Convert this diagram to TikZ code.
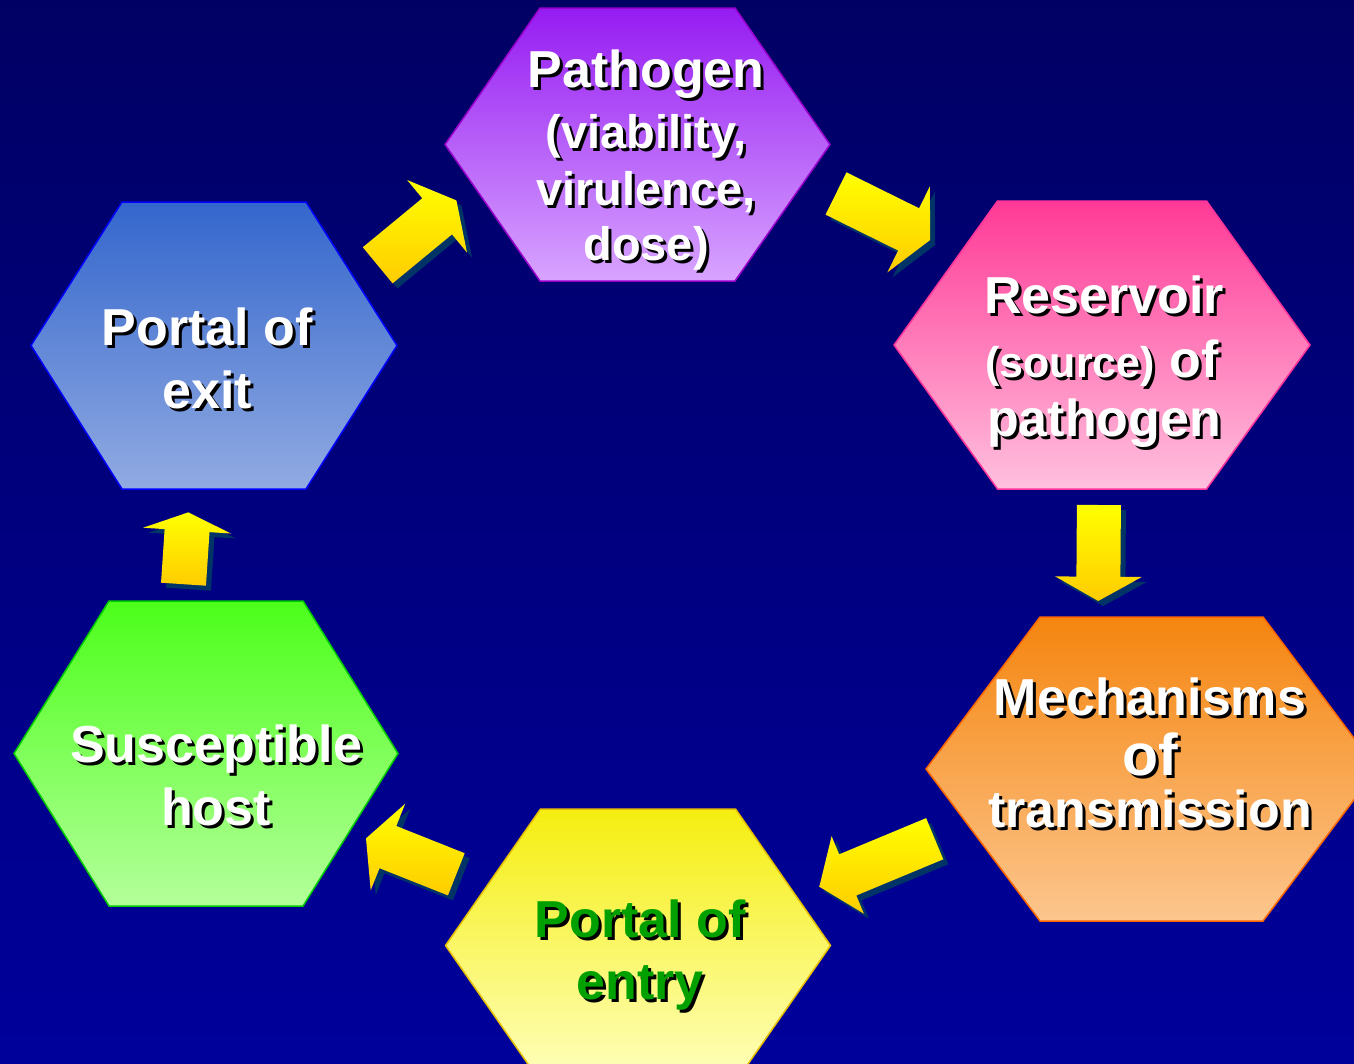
\documentclass[tikz,border=0pt]{standalone}
\usepackage{fontspec}
\setmainfont{Liberation Sans}
\usetikzlibrary{calc}

\definecolor{bgtop}{RGB}{0,0,100}
\definecolor{bgbot}{RGB}{0,0,155}
\definecolor{arrtop}{RGB}{255,255,0}
\definecolor{arrbot}{RGB}{255,204,0}
\definecolor{arrshade}{RGB}{0,51,102}
\definecolor{purtop}{RGB}{150,28,242}
\definecolor{purbot}{RGB}{216,164,255}
\definecolor{purline}{RGB}{153,0,204}
\definecolor{pintop}{RGB}{255,58,150}
\definecolor{pinbot}{RGB}{255,192,222}
\definecolor{pinline}{RGB}{255,51,153}
\definecolor{ortop}{RGB}{245,133,15}
\definecolor{orbot}{RGB}{252,198,142}
\definecolor{orline}{RGB}{255,102,0}
\definecolor{yetop}{RGB}{245,238,16}
\definecolor{yebot}{RGB}{255,255,190}
\definecolor{yeline}{RGB}{230,190,0}
\definecolor{grtop}{RGB}{76,255,26}
\definecolor{grbot}{RGB}{180,255,155}
\definecolor{grline}{RGB}{0,204,0}
\definecolor{bltop}{RGB}{51,102,204}
\definecolor{blbot}{RGB}{145,170,226}
\definecolor{blline}{RGB}{0,0,255}
\definecolor{entrygreen}{RGB}{0,160,0}

\tikzset{
  arrowfill/.style={top color=arrtop, bottom color=arrbot},
  arrowshadow/.style={fill=arrshade},
  hexline/.style={line width=1.5pt, line join=miter}
}

% hexagon: #1 name, #2 cx, #3 cy, #4 half height, #5 top half width, #6 half width, #7 style
\newcommand\hexagon[7]{%
  \shade[hexline,#7] (#2-#5,#3-#4) -- (#2+#5,#3-#4) -- (#2+#6,#3) -- (#2+#5,#3+#4) -- (#2-#5,#3+#4) -- (#2-#6,#3) -- cycle;
  \coordinate (#1) at (#2,#3);
}

% text line with shadow: #1 name, #2 x, #3 baseline y, #4 size, #5 colour, #6 text
\newcommand\tline[6]{%
  \node[anchor=base, inner sep=0pt, text=black, font={\fontsize{#4}{#4}\selectfont\bfseries}] at (#2+3,#3+3) {#6};
  \node[anchor=base, inner sep=0pt, text=#5, font={\fontsize{#4}{#4}\selectfont\bfseries}] (#1) at (#2,#3) {#6};
}

% arrow points: #1 name, #2 x, #3 y (tail middle), #4 angle, #5 length, #6 shaft half width, #7 head half width, #8 head length, #9 offset
\newcommand\arrowpts[9]{%
  \coordinate (#1-1) at ({#2+#9-(#6)*sin(#4)},{#3+#9+(#6)*cos(#4)});
  \coordinate (#1-2) at ({#2+#9+(#5-#8)*cos(#4)-(#6)*sin(#4)},{#3+#9+(#5-#8)*sin(#4)+(#6)*cos(#4)});
  \coordinate (#1-3) at ({#2+#9+(#5-#8)*cos(#4)-(#7)*sin(#4)},{#3+#9+(#5-#8)*sin(#4)+(#7)*cos(#4)});
  \coordinate (#1-4) at ({#2+#9+(#5)*cos(#4)},{#3+#9+(#5)*sin(#4)});
  \coordinate (#1-5) at ({#2+#9+(#5-#8)*cos(#4)+(#7)*sin(#4)},{#3+#9+(#5-#8)*sin(#4)-(#7)*cos(#4)});
  \coordinate (#1-6) at ({#2+#9+(#5-#8)*cos(#4)+(#6)*sin(#4)},{#3+#9+(#5-#8)*sin(#4)-(#6)*cos(#4)});
  \coordinate (#1-7) at ({#2+#9+(#6)*sin(#4)},{#3+#9-(#6)*cos(#4)});
}
\newcommand\blockarrow[8]{%
  \arrowpts{#1s}{#2}{#3}{#4}{#5}{#6}{#7}{#8}{5}
  \arrowpts{#1}{#2}{#3}{#4}{#5}{#6}{#7}{#8}{0}
  \fill[arrowshadow] (#1s-1) -- (#1s-2) -- (#1s-3) -- (#1s-4) -- (#1s-5) -- (#1s-6) -- (#1s-7) -- cycle;
  \shade[arrowfill] (#1-1) -- (#1-2) -- (#1-3) -- (#1-4) -- (#1-5) -- (#1-6) -- (#1-7) -- cycle;
}

\begin{document}
\begin{tikzpicture}[x=1pt,y=-1pt]
\useasboundingbox (0,0) rectangle (1354,1063);
\clip (0,0) rectangle (1354,1063);
\shade[top color=bgtop, bottom color=bgbot] (0,0) rectangle (1354,1063);

% hexagons
\hexagon{pathogen}{637.5}{144.5}{136.5}{97.5}{192.5}{top color=purtop, bottom color=purbot, draw=purline}
\hexagon{reservoir}{1102}{345}{144}{104.5}{208}{top color=pintop, bottom color=pinbot, draw=pinline}
\hexagon{mechanisms}{1151.5}{769}{152}{111.5}{225.5}{top color=ortop, bottom color=orbot, draw=orline}
\hexagon{entry}{638}{945.5}{136.5}{97.5}{192.5}{top color=yetop, bottom color=yebot, draw=yeline}
\hexagon{host}{206}{753.5}{152.5}{97}{192}{top color=grtop, bottom color=grbot, draw=grline}
\hexagon{exit}{214}{345.5}{143.5}{92}{183}{top color=bltop, bottom color=blbot, draw=blline}

% arrows
\blockarrow{a1}{377.7}{265.3}{-39.5}{102}{23.4}{47}{25}
\blockarrow{a2}{836}{193.5}{26.3}{105}{23.6}{48}{24}
\blockarrow{a3}{1098.9}{505}{90.4}{96}{22}{43.3}{24.3}
\blockarrow{a4}{934.7}{838.7}{157.4}{125}{22.3}{42}{30.8}
\blockarrow{a5}{456.3}{874.3}{-158.3}{97.2}{22.7}{46.6}{23.6}
\blockarrow{a6}{183.5}{584.2}{-86.2}{72}{22.5}{44}{18.3}

% texts
\tline{t11}{646}{87}{52}{white}{Pathogen}
\tline{t12}{646}{148}{47}{white}{(viability,}
\tline{t13}{646}{205}{47}{white}{virulence,}
\tline{t14}{646}{260}{47}{white}{dose)}

\tline{t21}{1104}{313}{52}{white}{Reservoir}
\tline{t22}{1102}{377}{52}{white}{{\fontsize{43}{43}\selectfont (source)} of}
\tline{t23}{1104}{436}{52}{white}{pathogen}

\tline{t31}{1150}{715}{52}{white}{Mechanisms}
\tline{t32}{1150}{775}{59}{white}{of}
\tline{t33}{1150}{827}{52}{white}{transmission}

\tline{t41}{640}{937}{52}{entrygreen}{Portal of}
\tline{t42}{640}{999}{52}{entrygreen}{entry}

\tline{t51}{216}{762}{52}{white}{Susceptible}
\tline{t52}{216}{825}{52}{white}{host}

\tline{t61}{207}{345}{52}{white}{Portal of}
\tline{t62}{207}{408}{52}{white}{exit}
\end{tikzpicture}
\end{document}
